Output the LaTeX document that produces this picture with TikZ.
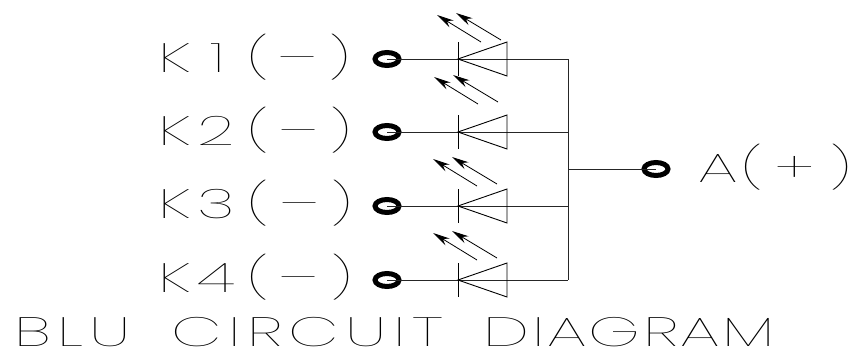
\documentclass[tikz,border=0pt]{standalone}
\usepackage{fontspec}
\usetikzlibrary{arrows.meta,shapes.geometric}
\newfontfamily\cadfont[UprightFont={* Thin},FakeStretch=1.6,LetterSpace=16]{Poppins}
\tikzset{
  x=1pt,y=-1pt,
  wire/.style={line width=1pt,black!85},
  thin part/.style={line width=.9pt,black},
  ring/.style={draw=black,line width=5pt,ellipse,minimum width=24pt,minimum height=13pt,inner sep=0pt,outer sep=0pt},
  lbl/.style={anchor=base west,inner sep=0pt,font=\cadfont\fontsize{41}{41}\selectfont},
  ray/.style={line width=.8pt,-{Stealth[length=17pt,width=8pt]}},
}
% #1 id, #2 row y, #3 label text after K, #4 label baseline, #5 #6 ray shift
\newcommand{\ledrow}[6]{%
  \node[ring] (t#1) at (387,#2) {};
  \coordinate (j#1) at (568,#2);
  \coordinate (ca#1) at (458,#2);
  \coordinate (cu#1) at (458,#2-17);
  \coordinate (cd#1) at (458,#2+17);
  \coordinate (bu#1) at (507,#2-17);
  \coordinate (bd#1) at (507,#2+17);
  \draw[wire] (t#1.center) -- (j#1);
  \draw[thin part] (cu#1) -- (cd#1);
  \draw[thin part] (ca#1) -- (bu#1) -- (bd#1) -- cycle;
  \coordinate (ra#1) at (477+#5,#2-20+#6);
  \coordinate (rb#1) at (433+#5,#2-47+#6);
  \coordinate (rc#1) at (497+#5,#2-22+#6);
  \coordinate (rd#1) at (452+#5,#2-49+#6);
  \draw[ray] (ra#1) -- (rb#1);
  \draw[ray] (rc#1) -- (rd#1);
  \node[lbl] (l#1) at (158,#4) {K#3};
}
\begin{document}
\begin{tikzpicture}
\useasboundingbox (0,0) rectangle (853,351);
\ledrow{1}{59}{\hspace{20pt}1\hspace{22pt}(\hspace{9pt}–\hspace{12pt})}{72}{4}{3}
\ledrow{2}{132}{2\hspace{13pt}(\hspace{10pt}–\hspace{12pt})}{145}{1}{-8}
\ledrow{3}{206}{3\hspace{13pt}(\hspace{10pt}–\hspace{12pt})}{218}{0}{0}
\ledrow{4}{280}{4\hspace{13pt}(\hspace{10pt}–\hspace{12pt})}{292}{0}{0}
\draw[wire] (j1) -- (j4);
\coordinate (j0) at (568,169);
\node[ring] (ta) at (656,169) {};
\draw[wire] (j0) -- (ta.center);
\node[lbl] (la) at (698,182) {A\hspace{4pt}(\hspace{12pt}+\hspace{15pt})};
\node[lbl] (title) at (14,346) {BLU\hspace{40pt}CIRCUIT\hspace{40pt}{\addfontfeature{LetterSpace=6}DIAGRAM}};
\end{tikzpicture}
\end{document}
